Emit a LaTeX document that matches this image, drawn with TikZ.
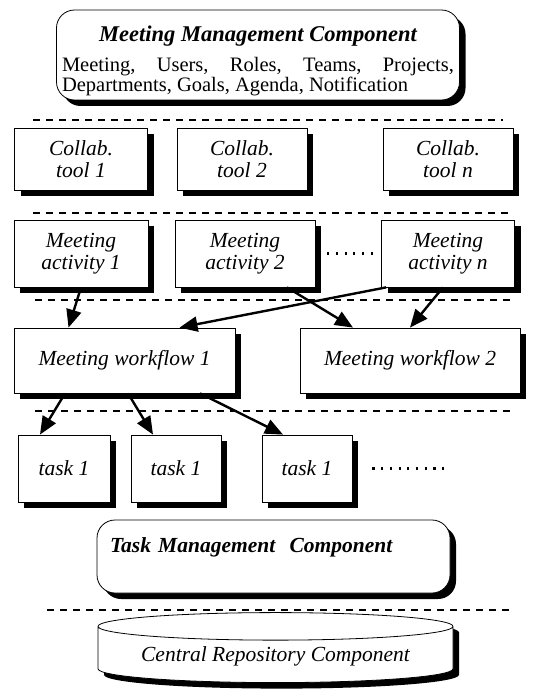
\documentclass[tikz,border=0pt]{standalone}
\usepackage{fontspec}
\setmainfont{Liberation Serif}
\usetikzlibrary{arrows.meta,shadows,shapes.geometric}
\tikzset{
  box/.style={draw, line width=0.8pt, fill=white, align=center,
    drop shadow={shadow xshift=6pt, shadow yshift=-6pt, fill=black, opacity=1},
    font=\fontsize{21.5}{22}\selectfont\itshape},
  rbox/.style={box, rounded corners=18pt},
  sep/.style={line width=2.6pt, dash pattern=on 7pt off 6pt},
  dots/.style={line width=2.2pt, dash pattern=on 2.2pt off 6.5pt},
  arr/.style={line width=2.4pt, -{Triangle[length=18pt,width=15pt]}},
}
\begin{document}
\begin{tikzpicture}[x=1pt,y=-1pt]
    \useasboundingbox (0,0) rectangle (539,698);
    % meeting management component
    \node[rbox, minimum width=403pt, minimum height=90pt, font=\fontsize{20.5}{20}\selectfont]
      (mm) at (258,55) {\rule{0pt}{28pt}{\fontsize{22.5}{22}\selectfont\bfseries\itshape Meeting Management Component}\\[10pt]
      \makebox[392pt][s]{Meeting, Users, Roles, Teams, Projects,}\\
      \makebox[392pt][l]{Departments, Goals, Agenda, Notification}};
    \draw[sep] (33,120) -- (503,120);
    % collaboration tools
    \node[box, minimum width=133pt, minimum height=62pt] (tool1) at (81,159) {Collab.\\tool 1};
    \node[box, minimum width=130pt, minimum height=62pt] (tool2) at (242,159) {Collab.\\tool 2};
    \node[box, minimum width=130pt, minimum height=62pt] (tooln) at (448,159) {Collab.\\tool $\mathit{n}$};
    \draw[sep] (33,213) -- (508,213);
    % meeting activities
    \node[box, minimum width=134pt, minimum height=67pt] (act1) at (81,253.5) {Meeting\\activity 1};
    \node[box, minimum width=140pt, minimum height=67pt] (act2) at (245,253.5) {Meeting\\activity 2};
    \node[box, minimum width=133pt, minimum height=67pt] (actn) at (448,253.5) {Meeting\\activity $\mathit{n}$};
    \draw[dots] ([xshift=3pt]act2.east) -- ([xshift=-2pt]actn.west);
    \draw[sep] (35,300) -- (510,300);
    % workflows
    \node[box, minimum width=221pt, minimum height=65pt] (wf1) at (124.5,360.5) {Meeting workflow 1};
    \node[box, minimum width=220pt, minimum height=65pt] (wf2) at (410,360.5) {Meeting workflow 2};
    \draw[arr] (act1.south) -- ([xshift=-56pt]wf1.north);
    \draw[arr] ([xshift=42pt]act2.south) -- ([xshift=-57pt]wf2.north);
    \draw[arr] ([xshift=5pt]actn.south west) -- ([xshift=55pt]wf1.north);
    \draw[arr] ([xshift=-5pt]actn.south) -- (wf2.north);
    \draw[sep] (35,411) -- (515,411);
    % tasks
    \node[box, minimum width=92pt, minimum height=67pt] (task1) at (64,468.5) {task 1};
    \node[box, minimum width=90pt, minimum height=67pt] (task2) at (176,468.5) {task 1};
    \node[box, minimum width=90pt, minimum height=67pt] (task3) at (307,468.5) {task 1};
    \draw[dots] ([xshift=20pt]task3.east) -- ++(73,0);
    \draw[arr] ([xshift=-59.5pt]wf1.south) -- ([xshift=-24pt]task1.north);
    \draw[arr] ([xshift=3.5pt]wf1.south) -- ([xshift=-23pt]task2.north);
    \draw[arr] ([xshift=75.5pt]wf1.south) -- ([xshift=-24pt]task3.north);
    % task management component
    \node[rbox, minimum width=353pt, minimum height=73pt, text width=327pt, align=left]
      (tm) at (273.5,556.5) {{\bfseries Task Management\ \ Component}\\\mbox{}};
    \draw[sep] (47,610) -- (515,610);
    % central repository
    \node[box, cylinder, shape border rotate=90, aspect=0.1, minimum width=355pt,
      minimum height=70pt] (repo) at (275.5,656) {Central Repository Component};
\end{tikzpicture}
\end{document}
